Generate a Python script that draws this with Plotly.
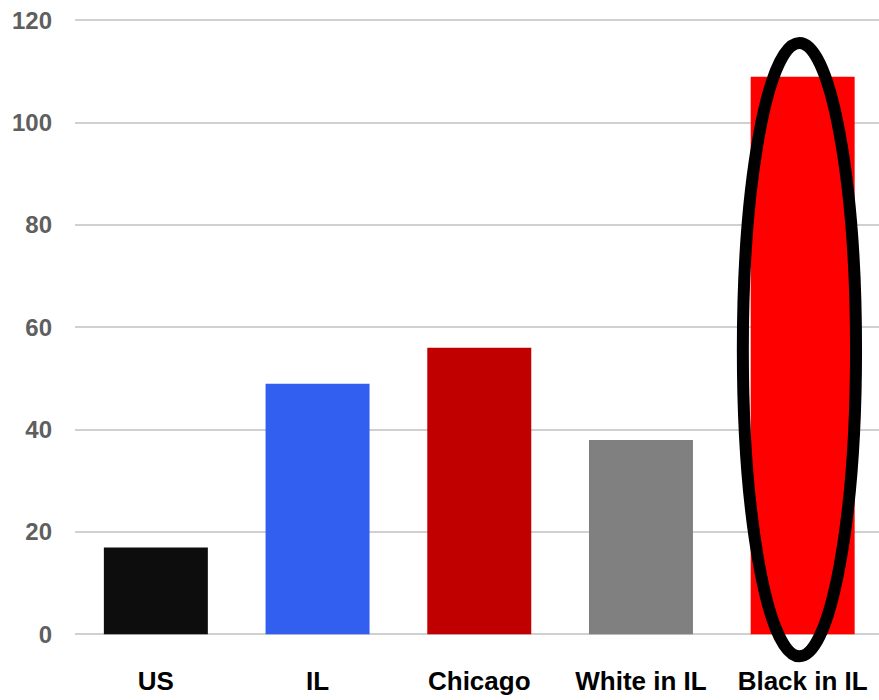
import plotly.graph_objects as go

categories = ["US", "IL", "Chicago", "White in IL", "Black in IL"]
values = [17, 49, 56, 38, 109]
colors = ["#0d0d0d", "#325fef", "#c00000", "#808080", "#ff0000"]
y_ticks = [0, 20, 40, 60, 80, 100, 120]
highlight_index = 4

fig = go.Figure(go.Bar(
    x=list(range(len(categories))), y=values,
    marker=dict(color=colors, line=dict(width=0)),
    width=0.643,
))

fig.add_shape(
    type="circle", xref="x", yref="y",
    x0=highlight_index - 0.37, x1=highlight_index + 0.33,
    y0=-4.3, y1=115.6,
    line=dict(color="black", width=12),
    layer="above",
)

fig.update_layout(
    width=879, height=700,
    margin=dict(l=75, r=0, t=0, b=37),
    plot_bgcolor="white", paper_bgcolor="white",
    showlegend=False,
    xaxis=dict(
        range=[-0.5, 4.472], automargin=False,
        tickvals=list(range(len(categories))), ticktext=categories,
        showgrid=False, zeroline=False, showline=False,
        ticks="", ticklabelstandoff=0,
        tickfont=dict(family="Liberation Sans Narrow, Arial Narrow, Liberation Sans, sans-serif",
                      size=26, color="black", weight="bold"),
    ),
    yaxis=dict(
        range=[-5.6, 124], automargin=False,
        tickvals=y_ticks,
        showgrid=True, gridcolor="#d0d0d0", gridwidth=2,
        zeroline=False, showline=False, ticks="",
        ticklabelstandoff=22,
        tickfont=dict(family="Liberation Sans, Arial, sans-serif",
                      size=24, color="#5f5f5f", weight="bold"),
    ),
)

fig.write_html("out.html")
